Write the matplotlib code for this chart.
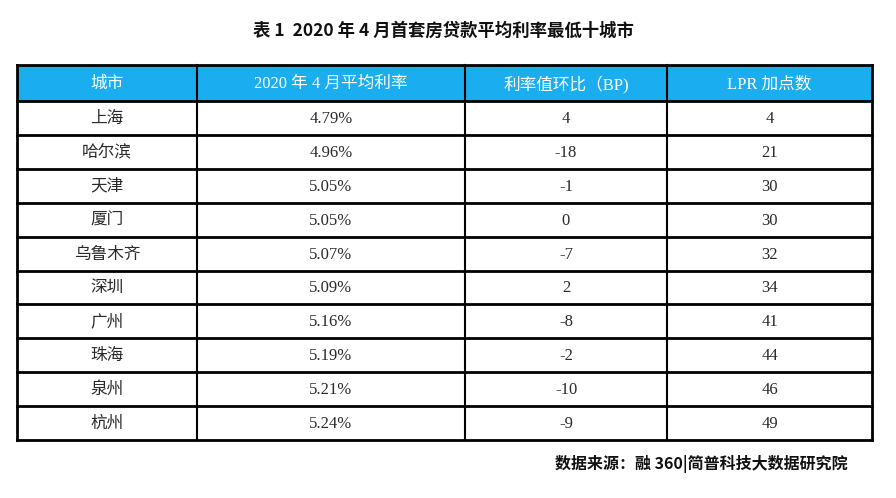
import matplotlib.pyplot as plt
from matplotlib.patches import Rectangle

plt.rcParams['font.family'] = ['Liberation Serif', 'Noto Sans CJK SC', 'DejaVu Sans']

title = "表 1  2020 年 4 月首套房贷款平均利率最低十城市"
source = "数据来源：融 360|简普科技大数据研究院"
headers = ["城市", "2020 年 4 月平均利率", "利率值环比（BP)", "LPR 加点数"]
cities = ["上海", "哈尔滨", "天津", "厦门", "乌鲁木齐", "深圳", "广州", "珠海", "泉州", "杭州"]
rates = ["4.79%", "4.96%", "5.05%", "5.05%", "5.07%", "5.09%", "5.16%", "5.19%", "5.21%", "5.24%"]
mom_bp = [4, -18, -1, 0, -7, 2, -8, -2, -10, -9]
lpr_add = [4, 21, 30, 30, 32, 34, 41, 44, 46, 49]

# table geometry in pixel units
col_edges = [17, 197, 465, 667, 872]
top, head_h, row_h = 65, 36, 33.9

fig = plt.figure(figsize=(8.96, 4.98), dpi=100)
ax = fig.add_axes([0, 0, 1, 1])
ax.set_xlim(0, 896)
ax.set_ylim(498, 0)
ax.axis('off')

ax.text(443, 31, title, ha='center', va='center', fontsize=12.5, fontweight='bold',
        family=['Noto Sans CJK SC', 'DejaVu Sans'], color='#111111')

ax.add_patch(Rectangle((col_edges[0], top), col_edges[-1] - col_edges[0], head_h,
                       facecolor='#1aaef0', edgecolor='none'))
for i, h in enumerate(headers):
    cx = (col_edges[i] + col_edges[i + 1]) / 2
    ax.text(cx, top + head_h / 2 + 1, h, ha='center', va='center', fontsize=12, color='white')

rows = list(zip(cities, rates, [str(v) for v in mom_bp], [str(v) for v in lpr_add]))
for r, row in enumerate(rows):
    cy = top + head_h + row_h * (r + 0.5) + 1
    for i, val in enumerate(row):
        cx = (col_edges[i] + col_edges[i + 1]) / 2
        ax.text(cx, cy, val, ha='center', va='center', fontsize=12, color='#2a2a2a')

bottom = top + head_h + row_h * len(rows)
for k in range(len(rows) + 2):
    y = top if k == 0 else top + head_h + row_h * (k - 1)
    ax.plot([col_edges[0], col_edges[-1]], [y, y], color='black', lw=2, solid_capstyle='projecting')
for x in col_edges:
    ax.plot([x, x], [top, bottom], color='black', lw=2 if x in (col_edges[0], col_edges[-1]) else 1.5)

ax.text(848, 464, source, ha='right', va='center', fontsize=11.5, fontweight='bold',
        family=['Noto Sans CJK SC', 'DejaVu Sans'], color='#111111')

fig.savefig('out.png', dpi=100)
